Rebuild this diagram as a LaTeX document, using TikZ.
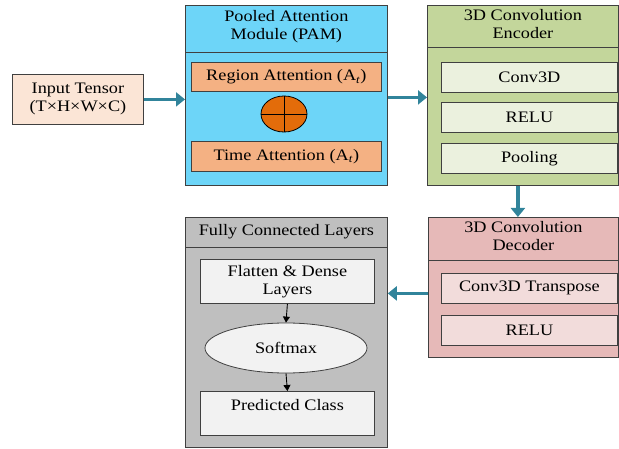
\documentclass[tikz,border=0pt]{standalone}
\usepackage{fontspec}
\setmainfont{Liberation Serif}[FakeStretch=1.14]
\usetikzlibrary{shapes.geometric, arrows.meta, positioning, calc}

\definecolor{tealarrow}{HTML}{31849B}
\definecolor{inputpeach}{HTML}{FBE5D6}
\definecolor{pamblue}{HTML}{6DD5F8}
\definecolor{pamorange}{HTML}{F4B183}
\definecolor{mixorange}{HTML}{E36C0A}
\definecolor{encgreen}{HTML}{C3D69B}
\definecolor{enclight}{HTML}{EBF1DE}
\definecolor{decpink}{HTML}{E6B9B8}
\definecolor{declight}{HTML}{F2DCDB}
\definecolor{fcgray}{HTML}{BFBFBF}
\definecolor{fclight}{HTML}{F2F2F2}

\begin{document}
\begin{tikzpicture}[x=1pt, y=-1pt,
  every node/.style={font=\fontsize{16}{18}\selectfont, text centered, inner sep=0pt},
  block/.style={draw=black!75, line width=0.8pt, anchor=north west},
  layer/.style={block, minimum height=30pt},
  flow/.style={draw=tealarrow, line width=3.5pt, -{Triangle[length=9pt, width=14pt]}},
  thin flow/.style={draw=black, line width=0.9pt, -{Triangle[length=6pt, width=7pt]}}
]
\useasboundingbox (0,0) rectangle (619,449);

% input
\node[block, fill=inputpeach, minimum width=131pt, minimum height=50pt, align=center] (input) at (12,74) {Input Tensor\\(T×H×W×C)};

% pooled attention module
\node[block, fill=pamblue, minimum width=202pt, minimum height=180pt] (pam) at (185,5) {};
\draw[draw=black!75, line width=0.8pt] ([yshift=-47pt]pam.north west) -- ([yshift=-47pt]pam.north east);
\node[align=center, below=5pt of pam.north] (pamtitle) {Pooled Attention\\Module (PAM)};
\node[layer, fill=pamorange, minimum width=190pt, minimum height=29pt] (region) at (191,62) {Region Attention (A\textsubscript{\textit{t}})};
\node[ellipse, draw=black, line width=0.8pt, fill=mixorange, minimum width=46pt, minimum height=36pt] (mix) at (284,114) {};
\draw[line width=0.8pt] (mix.north) -- (mix.south) (mix.west) -- (mix.east);
\node[layer, fill=pamorange, minimum width=190pt] (time) at (191,141) {Time Attention (A\textsubscript{\textit{t}})};

% encoder
\node[block, fill=encgreen, minimum width=191pt, minimum height=180pt] (enc) at (427,5) {};
\draw[draw=black!75, line width=0.8pt] ([yshift=-42pt]enc.north west) -- ([yshift=-42pt]enc.north east);
\node[align=center, below=4pt of enc.north] (enctitle) {3D Convolution\\Encoder};
\node[layer, fill=enclight, minimum width=176pt] (conv) at (441,62) {Conv3D};
\node[layer, fill=enclight, minimum width=176pt] (relu) at (441,102) {RELU};
\node[layer, fill=enclight, minimum width=176pt] (pool) at (441,143) {Pooling};

% decoder
\node[block, fill=decpink, minimum width=190pt, minimum height=140pt] (dec) at (428,217) {};
\draw[draw=black!75, line width=0.8pt] ([yshift=-43pt]dec.north west) -- ([yshift=-43pt]dec.north east);
\node[align=center, below=4pt of dec.north] (dectitle) {3D Convolution\\Decoder};
\node[layer, fill=declight, minimum width=176pt] (trans) at (441,273) {Conv3D Transpose};
\node[layer, fill=declight, minimum width=176pt] (derelu) at (441,315) {RELU};

% fully connected layers
\node[block, fill=fcgray, minimum width=202pt, minimum height=230pt] (fc) at (185,217) {};
\draw[draw=black!75, line width=0.8pt] ([yshift=-30pt]fc.north west) -- ([yshift=-30pt]fc.north east);
\node[below=7pt of fc.north] (fctitle) {Fully Connected Layers};
\node[block, fill=fclight, minimum width=174pt, minimum height=44pt, align=center] (flat) at (200,259) {Flatten \& Dense\\Layers};
\node[ellipse, draw=black!75, line width=0.8pt, fill=fclight, minimum width=162pt, minimum height=50pt] (soft) at (286,348) {Softmax};
\node[block, fill=fclight, minimum width=174pt, text height=19pt, text depth=25pt] (pred) at (200,391) {Predicted Class};

% connectors
\draw[flow] (input.east) -- (input.east -| pam.west);
\draw[flow] ([yshift=-2pt]pam.east) -- ([yshift=-2pt]pam.east -| enc.west);
\draw[flow] ([xshift=-5pt]enc.south) -- ([xshift=-5pt]enc.south |- dec.north);
\draw[flow] ([yshift=-6pt]dec.west) -- ([yshift=-6pt]dec.west -| fc.east);
\draw[thin flow] (flat.south) -- (soft.north);
\draw[thin flow] (soft.south) -- (pred.north);

\end{tikzpicture}
\end{document}
